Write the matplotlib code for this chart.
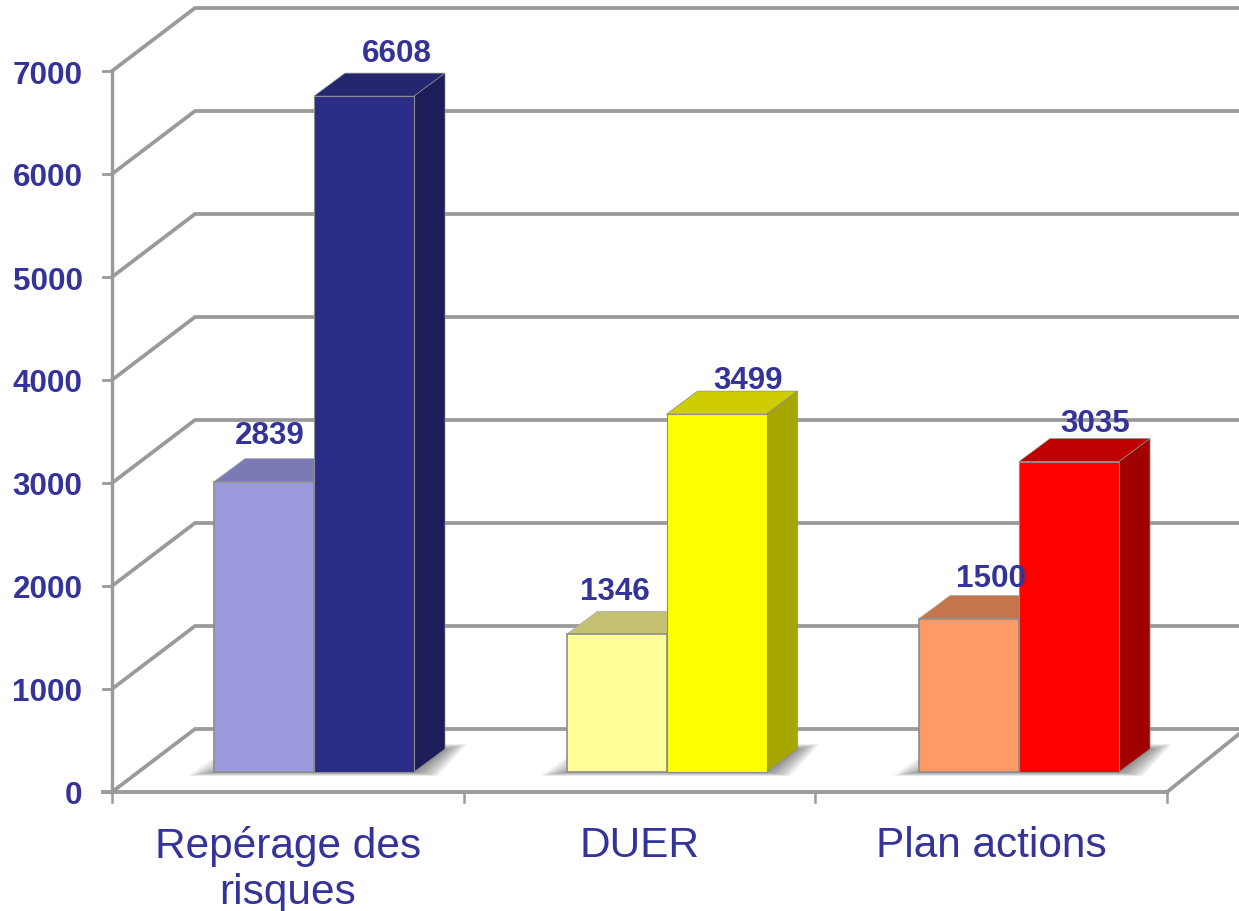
import numpy as np
import matplotlib
matplotlib.use("Agg")
import matplotlib.pyplot as plt
from matplotlib.patches import Polygon

categories = ["Repérage des\nrisques", "DUER", "Plan actions"]
light_values = [2839, 1346, 1500]
dark_values = [6608, 3499, 3035]
y_ticks = [0, 1000, 2000, 3000, 4000, 5000, 6000, 7000]

light_colors = ["#9C9ADF", "#FFFF99", "#FF9966"]
light_tops = ["#7C7AB4", "#C4C272", "#C4754C"]
dark_colors = ["#2A2C87", "#FFFF00", "#FF0000"]
dark_tops = ["#24266F", "#CDCD00", "#BF0000"]
dark_sides = ["#1D1D5A", "#A6A600", "#A00000"]

# label nudges in pixels, they are placed by hand in the original
light_nudge = [(6, -47), (-2, -43), (22, -41)]
dark_nudge = [(33, -43), (32, -34), (26, -39)]

TEXT = "#333399"
GRID = "#9A9A9A"

W, H = 1239, 912
px_x = 351.67  # pixels per category
px_y = 0.103   # pixels per unit
x0_px, y0_px = 112, 793

fig = plt.figure(figsize=(W / 100, H / 100), dpi=100)
ax = fig.add_axes([0, 0, 1, 1])
ax.set_xlim(-x0_px / px_x, (W - x0_px) / px_x)
ax.set_ylim(-(H - y0_px) / px_y, y0_px / px_y)
ax.axis("off")

# wall depth, bar depth and bar sizes, in data units
dx_wall, dy_wall = 83 / px_x, 63 / px_y
dx_bar, dy_bar = 31 / px_x, 23 / px_y
bar_w = 100 / px_x
bar_start = 102 / px_x
bar_step = 1.0024
floor_y = 20 / px_y
bar_scale = 0.993
xend = (W - x0_px) / px_x

plt.rcParams["font.family"] = ["Liberation Sans", "DejaVu Sans"]

# walls
for v in y_ticks:
    ax.plot([0, dx_wall, xend], [v, v + dy_wall, v + dy_wall], color=GRID, lw=2.7,
            solid_joinstyle="miter", zorder=1)
    ax.plot([-9 / px_x, 0], [v, v], color=GRID, lw=2.0, zorder=2)
ax.plot([0, 0], [0, 7000], color=GRID, lw=2.4, zorder=2)
ax.plot([-9 / px_x, 3], [0, 0], color=GRID, lw=2.8, zorder=2)
ax.plot([3, xend], [0, 58 / px_y], color=GRID, lw=2.7, zorder=2)
for i in range(4):
    ax.plot([i, i], [0, -10 / px_y], color=GRID, lw=1.8, zorder=2)

for i in range(3):
    xl = i * bar_step + bar_start
    xm = xl + bar_w
    xr = xm + bar_w
    lv = light_values[i] * bar_scale + floor_y
    dv = dark_values[i] * bar_scale + floor_y

    # soft shadow on the floor, built from stacked see-through layers
    for k in range(14):
        a = k * 1.8 / px_x
        b = (4 - k * 0.3) / px_y
        c = k * 1.6
        shadow = [(xl - 26 / px_x + a, floor_y - b),
                  (xr + (24 - c) / px_x, floor_y - b),
                  (xr + dx_bar + (22 - c) / px_x, floor_y + (28 - k * 0.4) / px_y),
                  (xr + dx_bar, floor_y + (28 - k * 0.4) / px_y),
                  (xl, floor_y + (14 - k * 0.6) / px_y),
                  (xl - 8 / px_x + a, floor_y + (9 - k * 0.6) / px_y)]
        ax.add_patch(Polygon(shadow, closed=True, fc="#4A4A4A", ec="none", alpha=0.055, zorder=3))

    # light bar
    ax.add_patch(Polygon([(xl, lv), (xl + dx_bar, lv + dy_bar), (xm + dx_bar, lv + dy_bar), (xm, lv)],
                         closed=True, fc=light_tops[i], ec="#A8A8A8", lw=0.5, zorder=4))
    ax.add_patch(Polygon([(xl, floor_y), (xm, floor_y), (xm, lv), (xl, lv)],
                         closed=True, fc=light_colors[i], ec="#8C8C8C", lw=1.2, zorder=5))

    # dark bar
    ax.add_patch(Polygon([(xm, dv), (xm + dx_bar, dv + dy_bar), (xr + dx_bar, dv + dy_bar), (xr, dv)],
                         closed=True, fc=dark_tops[i], ec="#8C8C8C", lw=0.5, zorder=6))
    ax.add_patch(Polygon([(xr, floor_y), (xr + dx_bar, floor_y + dy_bar), (xr + dx_bar, dv + dy_bar), (xr, dv)],
                         closed=True, fc=dark_sides[i], ec="#8C8C8C", lw=0.5, zorder=6))
    ax.add_patch(Polygon([(xm, floor_y), (xr, floor_y), (xr, dv), (xm, dv)],
                         closed=True, fc=dark_colors[i], ec="#8C8C8C", lw=0.8, zorder=7))

    # value labels
    nx, ny = light_nudge[i]
    ax.text((xl + xm) / 2 + nx / px_x, lv - ny / px_y, str(light_values[i]), color=TEXT,
            fontsize=22.6, fontweight="bold", ha="center", va="center", zorder=9)
    nx, ny = dark_nudge[i]
    ax.text((xm + xr) / 2 + nx / px_x, dv - ny / px_y, str(dark_values[i]), color=TEXT,
            fontsize=22.6, fontweight="bold", ha="center", va="center", zorder=9)

    # category labels
    ax.text(i + 0.5, -33 / px_y, categories[i], color=TEXT, fontsize=30.5,
            ha="center", va="top", linespacing=1.2, zorder=9)

for v in y_ticks:
    ax.text(-29.5 / px_x, v - 3.5 / px_y, str(v), color=TEXT, fontsize=22.6, fontweight="bold",
            ha="right", va="center", zorder=9)

fig.savefig("out.png", dpi=100)
